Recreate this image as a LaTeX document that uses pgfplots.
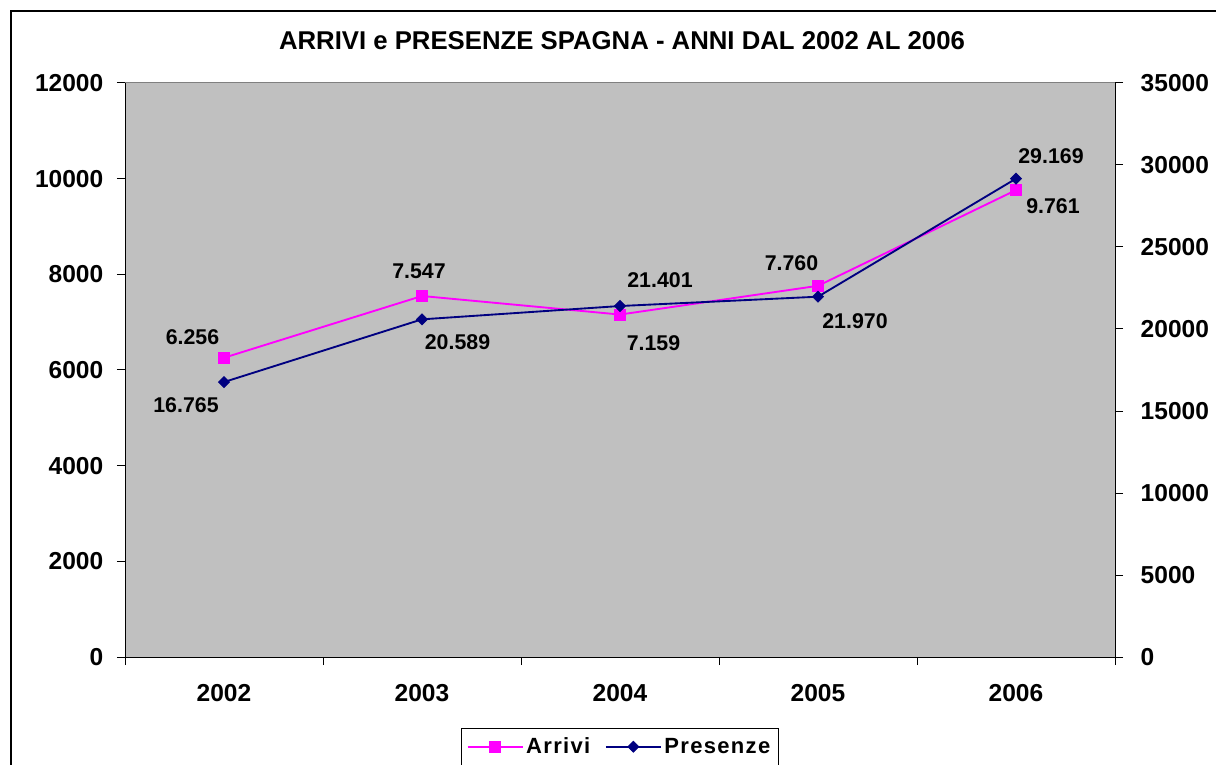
\documentclass[border=0pt]{standalone}
\usepackage{fontspec}
\setmainfont{Liberation Sans}
\usepackage{pgfplots}
\pgfplotsset{compat=1.18}
\usepackage{pgfplotstable}
\definecolor{bg}{HTML}{C0C0C0}
\definecolor{arr}{HTML}{FF00FF}
\definecolor{pres}{HTML}{000080}

\pgfplotstableread{
x y lab dx dy
0 6256 6.256 -31.5 21
1 7547 7.547 -3 24.5
2 7159 7.159 33.5 -28.5
3 7760 7.760 -26.5 22.5
4 9761 9.761 37 -16.5
}\arrivi
\pgfplotstableread{
x y lab dx dy
0 16765 16.765 -38 -23
1 20589 20.589 35.5 -22.5
2 21401 21.401 40 25.5
3 21970 21.970 37 -24.5
4 29169 29.169 35 22.5
}\presenze

\pgfplotsset{
  common/.style={
    width=742.5pt, height=430.5pt, scale only axis,
    at={(93.75pt,80.25pt)}, anchor=south west,
    xmin=-0.5, xmax=4.5, ymin=0,
    scaled y ticks=false,
    tick align=outside, major tick length=6pt,
    tick style={black, line width=0.75pt},
    axis line style={black, line width=0.75pt},
    /pgf/number format/assume math mode=true,
    /pgf/number format/1000 sep={},
    ticklabel style={font=\fontsize{18.4pt}{20pt}\selectfont\bfseries},
    clip=false,
  },
  lab/.style={
    nodes near coords, point meta=explicit symbolic,
    visualization depends on=\thisrow{dx} \as \dx,
    visualization depends on=\thisrow{dy} \as \dy,
    every node near coord/.append style={anchor=center, inner sep=0pt,
      xshift={\dx*0.75pt}, yshift={\dy*0.75pt},
      font=\fontsize{16pt}{18pt}\selectfont\bfseries, text=black},
  },
  arrst/.style={arr, line width=1.4pt, mark=square*, mark size=4.1pt, mark options={solid, line width=0.4pt}},
  presst/.style={pres, line width=1.4pt, mark=square*, mark size=3.0pt, mark options={solid, rotate=45, line width=0.4pt}},
}

\begin{document}
\begin{tikzpicture}
\path[use as bounding box, clip] (0pt,0pt) rectangle (912pt,573pt);
\draw[line width=1.5pt] (8.25pt,-20pt) -- (8.25pt,564.75pt) -- (940pt,564.75pt);

\begin{axis}[common,
  ymax=12000, ytick={0,2000,...,12000},
  axis x line*=bottom, axis y line*=left,
  axis background/.style={fill=bg},
  yticklabel style={xshift=-6.75pt},
  xtick={-0.5,0.5,1.5,2.5,3.5,4.5}, xticklabels={,,,,,},
  extra x ticks={0,1,2,3,4},
  extra x tick labels={2002,2003,2004,2005,2006},
  extra x tick style={major tick length=0pt, xticklabel style={yshift=-17pt}},
  title={ARRIVI e PRESENZE SPAGNA - ANNI DAL 2002 AL 2006},
  title style={at={(0.502,1.0592)}, anchor=center, inner sep=0pt,
    font=\fontsize{19.3pt}{22pt}\selectfont\bfseries},
]
\addplot[arrst, lab] table[x=x, y=y, meta=lab]{\arrivi};
\draw[gray, line width=0.75pt] (rel axis cs:0,1) -- (rel axis cs:1,1);
\end{axis}

\begin{axis}[common,
  ymax=35000, ytick={0,5000,...,35000},
  axis y line*=right, axis x line=none,
  yticklabel style={xshift=9.75pt},
  legend columns=2,
  legend image code/.code={\draw[mark repeat=2,mark phase=2] plot coordinates {(0pt,0pt)(20.6pt,0pt)(41.2pt,0pt)};},
  legend style={at={(0.3394,-0.1237)}, anchor=north west, draw=black, line width=0.6pt,
    fill=white, inner xsep=4pt, inner ysep=5pt,
    font=\fontsize{16.5pt}{18pt}\selectfont\bfseries\addfontfeature{LetterSpace=6},
    /tikz/every even column/.append style={column sep=9pt}},
]
\addlegendimage{arrst}
\addlegendentry{Arrivi}
\addplot[presst, lab] table[x=x, y=y, meta=lab]{\presenze};
\addlegendentry{Presenze}
\end{axis}
\end{tikzpicture}
\end{document}
